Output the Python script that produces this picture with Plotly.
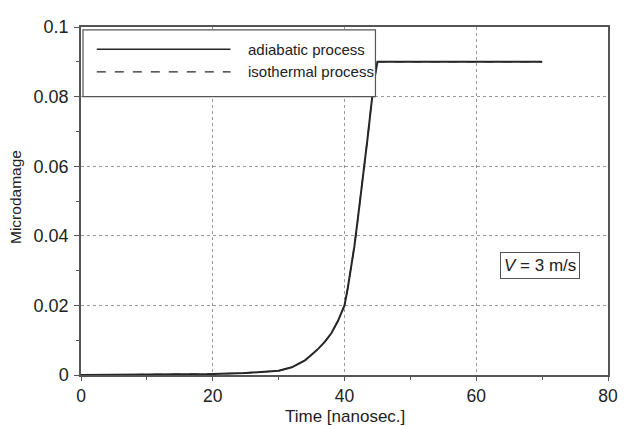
import plotly.graph_objects as go

# Data
time_ns = [0, 10, 20, 25, 28, 30, 32, 34, 35, 36, 37, 38, 39, 40, 40.5, 41, 41.5, 42, 42.5, 43, 43.5,
           44, 44.5, 45, 50, 60, 70]
adiabatic = [0, 0.0001, 0.0003, 0.0006, 0.0009, 0.0012, 0.0022, 0.0042, 0.0058, 0.0075, 0.0095,
             0.012, 0.0155, 0.02, 0.025, 0.0305, 0.037, 0.0445, 0.052, 0.060, 0.068,
             0.0765, 0.0845, 0.09, 0.09, 0.09, 0.09]
isothermal = [0, 0.0001, 0.0003, 0.0006, 0.0009, 0.0012, 0.0022, 0.0042, 0.0058, 0.0075, 0.0095,
              0.012, 0.0155, 0.02, 0.025, 0.0305, 0.037, 0.0445, 0.052, 0.060, 0.068,
              0.0765, 0.0845, 0.09, 0.09, 0.09, 0.09]
x_ticks = [0, 20, 40, 60, 80]
y_ticks = [0, 0.02, 0.04, 0.06, 0.08, 0.1]
y_tick_labels = ["0", "0.02", "0.04", "0.06", "0.08", "0.1"]
legend_names = ["adiabatic process", "isothermal process"]
x_title = "Time [nanosec.]"
y_title = "Microdamage"

LINE = "#262626"
AX = "#555555"
FONT = "Liberation Sans, Arial, sans-serif"
TXT = "#222222"

fig = go.Figure()
fig.add_trace(go.Scatter(x=time_ns, y=adiabatic, mode="lines", name=legend_names[0],
                         line=dict(color=LINE, width=2), showlegend=False))
fig.add_trace(go.Scatter(x=time_ns, y=isothermal, mode="lines", name=legend_names[1],
                         line=dict(color=LINE, width=1.3, dash="dash"), showlegend=False))

# Custom legend box (white, covering the grid)
fig.add_shape(type="rect", xref="x", yref="y", x0=0.3, x1=44.7, y0=0.08, y1=0.0992,
              line=dict(color=AX, width=1.2), fillcolor="white", layer="above")
fig.add_shape(type="line", xref="x", yref="y", x0=2.4, x1=22.7, y0=0.0936, y1=0.0936,
              line=dict(color=LINE, width=1.5), layer="above")
fig.add_shape(type="line", xref="x", yref="y", x0=2.4, x1=22.7, y0=0.0871, y1=0.0871,
              line=dict(color=LINE, width=1.2, dash="dash"), layer="above")
fig.add_annotation(x=25.0, y=0.0936, xref="x", yref="y", text=legend_names[0], showarrow=False,
                   xanchor="left", yanchor="middle", font=dict(family=FONT, size=15, color=TXT))
fig.add_annotation(x=25.0, y=0.0871, xref="x", yref="y", text=legend_names[1], showarrow=False,
                   xanchor="left", yanchor="middle", font=dict(family=FONT, size=15, color=TXT))

# Velocity label box
fig.add_annotation(x=69.7, y=0.0316, xref="x", yref="y", text="<i>V</i> = 3 m/s", showarrow=False,
                   font=dict(family=FONT, size=17, color=TXT), bordercolor=AX, borderwidth=1,
                   borderpad=3, bgcolor="white")

# Axis titles
fig.add_annotation(x=0.5, y=0, xref="paper", yref="paper", yshift=-41, text=x_title, showarrow=False,
                   xanchor="center", yanchor="middle", font=dict(family=FONT, size=17, color=TXT))
fig.add_annotation(x=0, y=0.5, xref="paper", yref="paper", xshift=-66, yshift=4, text=y_title,
                   showarrow=False, textangle=-90, xanchor="center", yanchor="middle",
                   font=dict(family=FONT, size=15.5, color=TXT))

fig.update_xaxes(range=[0, 80], tickvals=x_ticks, showgrid=True, gridcolor="#999", griddash="dot",
                 gridwidth=1, zeroline=False, showline=True, linecolor=AX, linewidth=1.5, mirror=True,
                 ticks="outside", ticklen=4, tickcolor=AX,
                 minor=dict(dtick=10, ticks="outside", ticklen=3, tickcolor=AX, showgrid=False),
                 tickfont=dict(family=FONT, size=17.5, color=TXT))
fig.update_yaxes(range=[0, 0.1], tickvals=y_ticks, ticktext=y_tick_labels, showgrid=True, gridcolor="#999",
                 griddash="dot", gridwidth=1, zeroline=False, showline=True, linecolor=AX, linewidth=1.5,
                 mirror=True, ticks="outside", ticklen=5, tickcolor=AX, ticklabelstandoff=2,
                 minor=dict(dtick=0.01, ticks="outside", ticklen=3, tickcolor=AX, showgrid=False),
                 tickfont=dict(family=FONT, size=18, color=TXT))

# The page body adds an 8px margin, so the figure is sized/offset to land on the 627x426 frame
fig.update_layout(width=619, height=418, margin=dict(l=73, r=11, t=9, b=51),
                  paper_bgcolor="white", plot_bgcolor="white", showlegend=False)

fig.write_html("out.html")
